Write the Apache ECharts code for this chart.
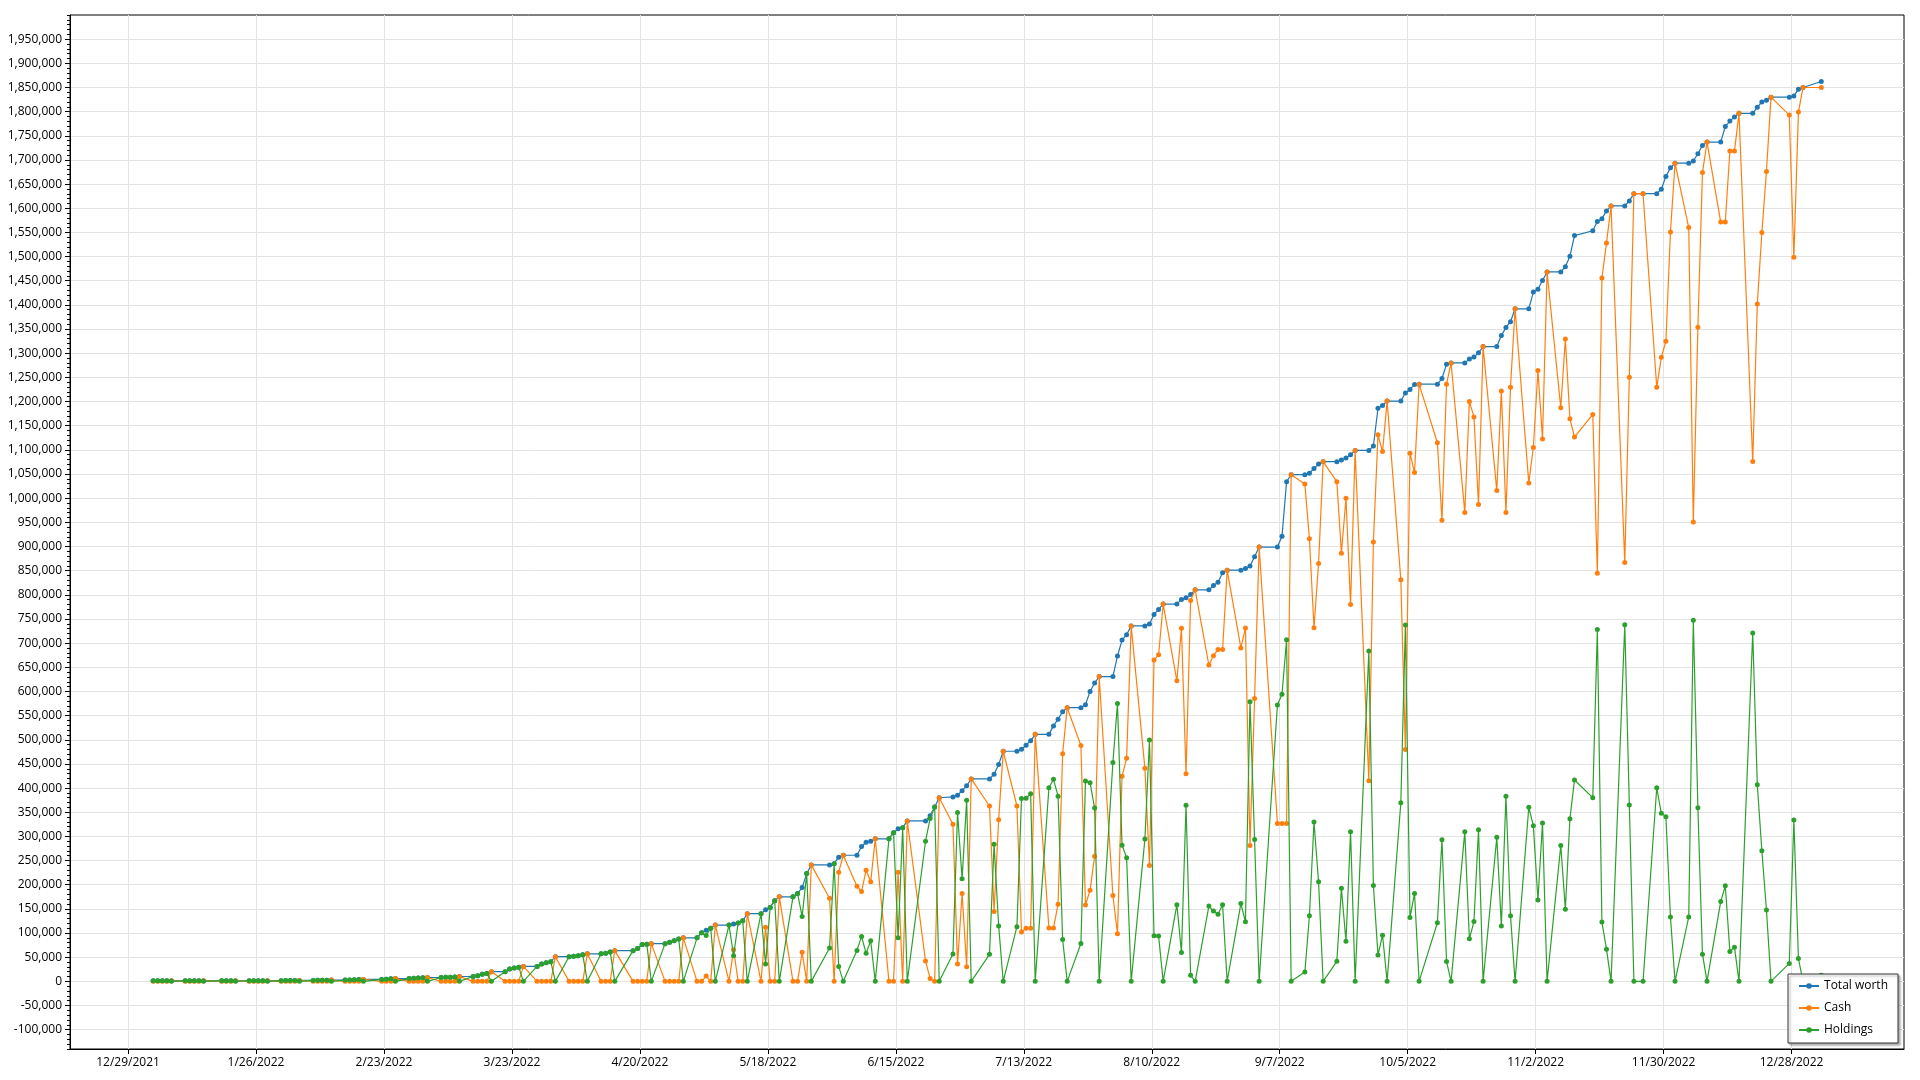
<!DOCTYPE html>
<html>
<head>
<meta charset="utf-8">
<script src="https://cdn.jsdelivr.net/npm/echarts@6/dist/echarts.min.js"></script>
<style>html,body{margin:0;padding:0;background:#fff}#chart{width:1920px;height:1080px}</style>
</head>
<body>
<div id="chart"></div>
<script>
const dates = [
'2022-01-03','2022-01-04','2022-01-05','2022-01-06','2022-01-07','2022-01-10','2022-01-11','2022-01-12','2022-01-13','2022-01-14','2022-01-18','2022-01-19','2022-01-20','2022-01-21','2022-01-24','2022-01-25','2022-01-26','2022-01-27','2022-01-28','2022-01-31',
'2022-02-01','2022-02-02','2022-02-03','2022-02-04','2022-02-07','2022-02-08','2022-02-09','2022-02-10','2022-02-11','2022-02-14','2022-02-15','2022-02-16','2022-02-17','2022-02-18','2022-02-22','2022-02-23','2022-02-24','2022-02-25','2022-02-28',
'2022-03-01','2022-03-02','2022-03-03','2022-03-04','2022-03-07','2022-03-08','2022-03-09','2022-03-10','2022-03-11','2022-03-14','2022-03-15','2022-03-16','2022-03-17','2022-03-18','2022-03-21','2022-03-22','2022-03-23','2022-03-24','2022-03-25','2022-03-28','2022-03-29','2022-03-30','2022-03-31',
'2022-04-01','2022-04-04','2022-04-05','2022-04-06','2022-04-07','2022-04-08','2022-04-11','2022-04-12','2022-04-13','2022-04-14','2022-04-18','2022-04-19','2022-04-20','2022-04-21','2022-04-22','2022-04-25','2022-04-26','2022-04-27','2022-04-28','2022-04-29',
'2022-05-02','2022-05-03','2022-05-04','2022-05-05','2022-05-06','2022-05-09','2022-05-10','2022-05-11','2022-05-12','2022-05-13','2022-05-16','2022-05-17','2022-05-18','2022-05-19','2022-05-20','2022-05-23','2022-05-24','2022-05-25','2022-05-26','2022-05-27','2022-05-31',
'2022-06-01','2022-06-02','2022-06-03','2022-06-06','2022-06-07','2022-06-08','2022-06-09','2022-06-10','2022-06-13','2022-06-14','2022-06-15','2022-06-16','2022-06-17','2022-06-21','2022-06-22','2022-06-23','2022-06-24','2022-06-27','2022-06-28','2022-06-29','2022-06-30',
'2022-07-01','2022-07-05','2022-07-06','2022-07-07','2022-07-08','2022-07-11','2022-07-12','2022-07-13','2022-07-14','2022-07-15','2022-07-18','2022-07-19','2022-07-20','2022-07-21','2022-07-22','2022-07-25','2022-07-26','2022-07-27','2022-07-28','2022-07-29',
'2022-08-01','2022-08-02','2022-08-03','2022-08-04','2022-08-05','2022-08-08','2022-08-09','2022-08-10','2022-08-11','2022-08-12','2022-08-15','2022-08-16','2022-08-17','2022-08-18','2022-08-19','2022-08-22','2022-08-23','2022-08-24','2022-08-25','2022-08-26','2022-08-29','2022-08-30','2022-08-31',
'2022-09-01','2022-09-02','2022-09-06','2022-09-07','2022-09-08','2022-09-09','2022-09-12','2022-09-13','2022-09-14','2022-09-15','2022-09-16','2022-09-19','2022-09-20','2022-09-21','2022-09-22','2022-09-23','2022-09-26','2022-09-27','2022-09-28','2022-09-29','2022-09-30',
'2022-10-03','2022-10-04','2022-10-05','2022-10-06','2022-10-07','2022-10-11','2022-10-12','2022-10-13','2022-10-14','2022-10-17','2022-10-18','2022-10-19','2022-10-20','2022-10-21','2022-10-24','2022-10-25','2022-10-26','2022-10-27','2022-10-28','2022-10-31',
'2022-11-01','2022-11-02','2022-11-03','2022-11-04','2022-11-07','2022-11-08','2022-11-09','2022-11-10','2022-11-14','2022-11-15','2022-11-16','2022-11-17','2022-11-18','2022-11-21','2022-11-22','2022-11-23','2022-11-25','2022-11-28','2022-11-29','2022-11-30',
'2022-12-01','2022-12-02','2022-12-05','2022-12-06','2022-12-07','2022-12-08','2022-12-09','2022-12-12','2022-12-13','2022-12-14','2022-12-15','2022-12-16','2022-12-19','2022-12-20','2022-12-21','2022-12-22','2022-12-23','2022-12-27','2022-12-28','2022-12-29','2022-12-30',
'2023-01-03'
];

const totalWorth = [
1000,1010,1030,1050,1060, 1060,1100,1120,1150,1180, 1180,1230,1260,1300, 1300,1350,1400,1450,1500, 1500,
1600,1700,1800,1900, 1900,2100,2300,2500,2700, 2700,3000,3300,3600,4000, 4000,4600,5200,5800, 5800,
6300,6800,7300,8000, 8000,8300,8600,9000,10000, 10000,11700,14500,16500,20000, 20000,25500,27600,29000,31000, 31000,36000,38600,40700,
51000, 51000,52000,53000,55000,57000, 57000,58000,60700,63500, 63500,68000,76500,77000,78000, 78000,81000,84000,87600,90000,
90000,100700,106000,110000,116500, 116500,118500,121000,125500,140000, 140000,148000,153000,167000,175000, 175000,182000,194000,223000,241000, 241000,
243500,257000,261000, 261000,279000,288000,290000,295000, 295000,307600,316000,318000,332000, 332000,343000,361000,380000, 381800,385300,394400,404900,
418900, 418900,428700,448900,476200, 476200,480400,488800,497900,511200, 511200,528700,542700,558000,566400, 566400,572700,600000,617500,630800,
630800,673400,706300,717500,735700, 735700,739500,759400,769700,780800, 780800,790400,794100,800700,810300, 810300,819200,825800,845700,850900, 850900,854600,859800,
879000,898900, 898900,921000,1034000,1048700, 1048700,1051700,1061500,1070600,1075600, 1075600,1079000,1083100,1089700,1098900, 1098900,1108000,1186100,1191900,1201000,
1201000,1217700,1225100,1235100,1235900, 1235900,1247600,1277000,1280000, 1280000,1288000,1292000,1300900,1313700, 1313700,1336500,1353300,1365200,1391900, 1391900,
1426600,1432500,1450400,1468200, 1468200,1479000,1500800,1543400, 1553400,1572500,1578500,1594600,1604900, 1604900,1615200,1630200,1630200, 1630200,1639300,1665700,
1684100,1693300, 1693300,1697900,1712800,1730000,1736900, 1736900,1769200,1780400,1789100,1796500, 1796500,1808900,1820100,1823800,1830000, 1830000,1832500,1846200,1849900,
1862300
];

const cash = [
0,0,0,0,1060, 0,0,0,0,1180, 0,0,0,1300, 0,0,0,0,1500, 0,
0,0,0,1900, 0,0,0,0,2700, 0,0,0,0,4000, 0,0,0,5800, 0,
0,0,0,8000, 0,0,0,0,10000, 0,0,0,0,20000, 0,0,0,0,31000, 0,0,0,0,
51000, 0,0,0,0,57000, 0,0,0,63500, 0,0,0,0,78000, 0,0,0,0,90000,
0,0,11000,0,116500, 0,65500,0,0,140000, 0,112000,0,0,175000, 0,0,60000,0,241000, 172000,
0,226000,261000, 197000,186000,230000,206000,295000, 0,0,226000,0,332000, 42000,6000,0,380000, 325200,35700,181800,30000,
418900, 363000,144800,334300,476200, 363000,102000,109800,109800,511200, 110500,110500,159400,471300,566400, 488000,158000,188800,258700,630800,
177600,98600,424500,461500,735700, 441300,239900,665000,676000,780800, 622100,730600,429500,788200,810300, 654600,673800,687000,687000,850900, 690000,731400,281200,
585200,898900, 326900,326900,326900,1048700, 1029500,915900,731800,864700,1075600, 1034100,886200,1000000,779900,1098900, 415300,909500,1131300,1096400,1201000,
831400,480100,1093100,1053200,1235900, 1114700,954400,1236000,1280000, 970200,1199900,1168200,987000,1313700, 1015700,1221700,970200,1229600,1391900, 1031600,
1104800,1264200,1122700,1468200, 1187000,1329600,1164200,1126600, 1173200,844500,1455700,1528000,1604900, 866700,1250200,1630200,1630200, 1229500,1291500,1324800,
1550900,1693300, 1560100,950500,1353500,1673800,1736900, 1571500,1571500,1718400,1718400,1796500, 1075700,1402000,1549600,1676200,1830000, 1792800,1498800,1799000,1849900,
1849900
];

const holdings = [
1000,1010,1030,1050,0, 1060,1100,1120,1150,0, 1180,1230,1260,0, 1300,1350,1400,1450,0, 1500,
1600,1700,1800,0, 1900,2100,2300,2500,0, 2700,3000,3300,3600,0, 4000,4600,5200,0, 5800,
6300,6800,7300,0, 8000,8300,8600,9000,0, 10000,11700,14500,16500,0, 20000,25500,27600,29000,0, 31000,36000,38600,40700,
0, 51000,52000,53000,55000,0, 57000,58000,60700,0, 63500,68000,76500,77000,0, 78000,81000,84000,87600,0,
90000,100700,95000,110000,0, 116500,53000,121000,125500,0, 140000,36000,153000,167000,0, 175000,182000,134000,223000,0, 69000,
243500,31000,0, 64000,93000,58000,84000,0, 295000,307600,90000,318000,0, 290000,337000,361000,0, 56600,349600,212600,374900,
0, 55900,283900,114600,0, 113200,378400,379000,388100,0, 400700,418200,383300,86700,0, 78400,414700,411200,358800,0,
453200,574800,281800,256000,0, 294400,499600,94400,93700,0, 158700,59800,364600,12500,0, 155700,145400,138800,158700,0, 160900,123200,578600,
293800,0, 572000,594100,707100,0, 19200,135800,329700,205900,0, 41500,192800,83100,309800,0, 683600,198500,54800,95500,0,
369600,737600,132000,181900,0, 121200,293200,41000,0, 309800,88100,123800,313900,0, 298000,114800,383100,135600,0, 360300,
321800,168300,327700,0, 281200,149400,336600,416800, 380200,728000,122800,66600,0, 738200,365000,0,0, 400700,347800,340900,
133200,0, 133200,747400,359300,56200,0, 165400,197700,62000,70700,0, 720800,406900,270500,147600,0, 37200,333700,47200,0,
12400
];

const xTickLabels = ['12/29/2021','1/26/2022','2/23/2022','3/23/2022','4/20/2022','5/18/2022','6/15/2022','7/13/2022','8/10/2022','9/7/2022','10/5/2022','11/2/2022','11/30/2022','12/28/2022'];

const yTickValues = [-100000,-50000,0,50000,100000,150000,200000,250000,300000,350000,400000,450000,500000,550000,600000,650000,700000,750000,800000,850000,900000,950000,1000000,1050000,1100000,1150000,1200000,1250000,1300000,1350000,1400000,1450000,1500000,1550000,1600000,1650000,1700000,1750000,1800000,1850000,1900000,1950000];

const seriesNames = ['Total worth','Cash','Holdings'];
const seriesColors = ['#1f77b4','#ff7f0e','#2ca02c'];

const DAY = 86400000;
const ORIGIN = Date.UTC(2021, 11, 29);
function isoToDay(s){ const p = s.split('-').map(Number); return (Date.UTC(p[0], p[1]-1, p[2]) - ORIGIN) / DAY; }
function labelToDay(s){ const p = s.split('/').map(Number); return (Date.UTC(p[2], p[0]-1, p[1]) - ORIGIN) / DAY; }
const xTickPos = xTickLabels.map(labelToDay);
const labelByPos = {};
xTickLabels.forEach((l, i) => { labelByPos[xTickPos[i]] = l; });

// data timestamps are at midday
const xPos = dates.map(d => isoToDay(d) + 0.5);

const FONT = "'Open Sans', 'Noto Sans', sans-serif";

function makeSeries(idx, values) {
  const color = seriesColors[idx];
  return {
    name: seriesNames[idx],
    type: 'line',
    data: xPos.map((x, i) => [x, values[i]]),
    symbol: 'circle',
    symbolSize: 5,
    showSymbol: true,
    lineStyle: { width: 1.2, color: color },
    itemStyle: { color: color },
    emphasis: { disabled: true },
    z: 2 + idx
  };
}

const chart = echarts.init(document.getElementById('chart'), null, { renderer: 'canvas' });
chart.setOption({
  animation: false,
  backgroundColor: '#ffffff',
  textStyle: { fontFamily: FONT },
  grid: {
    left: 70, right: 16, top: 15, bottom: 31,
    containLabel: false, outerBoundsMode: 'none',
    show: true, borderColor: '#000', borderWidth: 1, backgroundColor: 'transparent'
  },
  xAxis: {
    type: 'value', min: -12.7, max: 388.6,
    axisLine: { show: true, onZero: false, lineStyle: { color: '#000', width: 1 } },
    axisTick: { show: true, customValues: xTickPos, length: 5, lineStyle: { color: '#000' } },
    axisLabel: {
      customValues: xTickPos, color: '#000', fontSize: 12, margin: 8, fontFamily: FONT,
      formatter: v => labelByPos[v] || ''
    },
    splitLine: { show: true, lineStyle: { color: '#e3e3e3', width: 1 } }
  },
  yAxis: [{
    type: 'value', min: -140000, max: 2000000, position: 'left',
    axisLine: { show: true, onZero: false, lineStyle: { color: '#000', width: 1 } },
    axisTick: { show: true, customValues: yTickValues, length: 5, lineStyle: { color: '#000' } },
    axisLabel: {
      customValues: yTickValues, color: '#000', fontSize: 12, margin: 8, fontFamily: FONT,
      formatter: v => Number(v).toLocaleString('en-US')
    },
    splitLine: { show: true, lineStyle: { color: '#e3e3e3', width: 1 } }
  }, {
    type: 'value', min: -140000, max: 2000000, interval: 10000, position: 'left',
    axisLine: { show: false, onZero: false },
    axisTick: { show: true, length: 3, lineStyle: { color: '#000' } },
    axisLabel: { show: false },
    splitLine: { show: false }
  }],
  legend: {
    data: seriesNames,
    orient: 'vertical',
    right: 22, bottom: 37,
    z: 20, zlevel: 0,
    itemWidth: 20, itemHeight: 7, itemGap: 8,
    padding: [5, 10, 6, 10],
    backgroundColor: '#ffffff',
    borderColor: '#333', borderWidth: 1, borderRadius: 0,
    shadowColor: 'rgba(0,0,0,0.3)', shadowBlur: 2, shadowOffsetX: 2, shadowOffsetY: 2,
    textStyle: { color: '#000', fontSize: 12, lineHeight: 14, fontFamily: FONT },
    selectedMode: false
  },
  series: [
    makeSeries(0, totalWorth),
    makeSeries(1, cash),
    makeSeries(2, holdings)
  ]
});
</script>
</body>
</html>
